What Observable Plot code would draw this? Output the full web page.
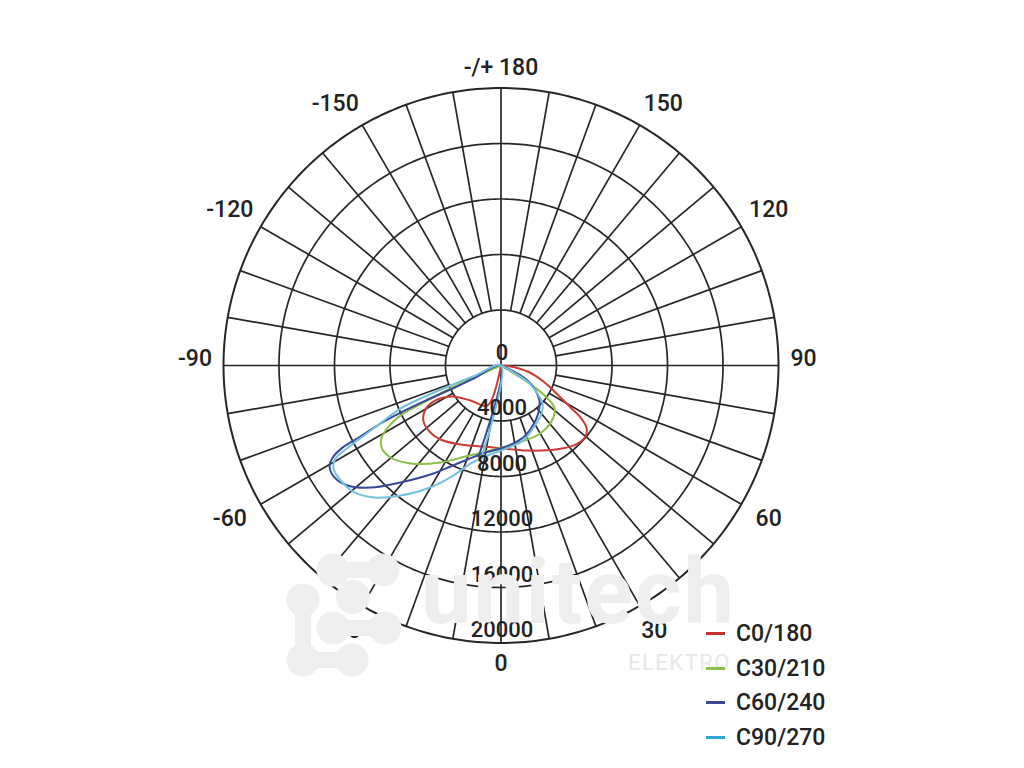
<!DOCTYPE html>
<html>
<head>
<meta charset="utf-8">
<script src="https://cdn.jsdelivr.net/npm/d3@7"></script>
<script src="https://cdn.jsdelivr.net/npm/@observablehq/plot@0.6"></script>
<style>
  body { margin: 0; background: #fff; font-family: Roboto, "Noto Sans", sans-serif; }
  #wrap { position: relative; width: 1024px; height: 768px; overflow: hidden; }
  #chart { position: absolute; left: 0; top: 0; }
  .wm { position: absolute; line-height: 1; white-space: nowrap; color: #eeeeee; }
  #wm1 { left: 421px; top: 548px; font-size: 90px; font-weight: 700; letter-spacing: 2px; }
  #wm2 { left: 628px; top: 652px; font-size: 22px; letter-spacing: 1.5px; color: #e8e8e8; }
  #logo { position: absolute; left: 0; top: 0; }
  #legend { position: absolute; left: 706px; top: 616px; }
  .item { display: flex; align-items: center; height: 34.7px; font-size: 23px; font-weight: 500; color: #222; }
  .sw { width: 19px; height: 3px; margin-right: 11px; }
</style>
</head>
<body>
<div id="wrap">
  <div id="chart"></div>
  <svg id="logo" width="1024" height="768">
    <g fill="#efefef">
      <circle cx="333" cy="570" r="16.5"/><circle cx="383" cy="570" r="16.5"/>
      <circle cx="353" cy="597" r="17"/>
      <circle cx="303" cy="600" r="16.5"/><circle cx="303" cy="660" r="16.5"/>
      <circle cx="352" cy="660" r="16.5"/>
      <circle cx="333" cy="628" r="16.5"/><circle cx="385" cy="628" r="16.5"/>
    </g>
    <g stroke="#efefef" stroke-width="16">
      <line x1="333" y1="570" x2="383" y2="570"/>
      <line x1="303" y1="600" x2="303" y2="660"/>
      <line x1="303" y1="660" x2="352" y2="660"/>
      <line x1="333" y1="628" x2="385" y2="628"/>
    </g>
  </svg>
  <div class="wm" id="wm1">unitech</div>
  <div class="wm" id="wm2">ELEKTRO</div>
  <div id="legend"></div>
</div>
<script>
// ---- data (angles in degrees: 0 = nadir/bottom, 90 = right, -90 = left; values in cd) ----
const seriesNames = ["C0/180", "C30/210", "C60/240", "C90/270"];
const seriesColors = ["#cc3a35", "#8cbf47", "#3a4898", "#72c2dd"];
const legendColors = ["#c8302d", "#8cc04b", "#3a4898", "#2ea6d6"];

const c0Angles = [90, 84, 77.2, 69.4, 62.8, 58.9, 56.8, 54.0, 50.0, 43.3, 33.0, 17.3, -5.2, -27.1, -39.3, -46.5, -54.2, -59.8, -61.9, -57.4, -41.1, -18.6, -18.6];
const c0Values = [0, 690, 1960, 3270, 4580, 5850, 6850, 7610, 7950, 7830, 7220, 6420, 5930, 6400, 6890, 7010, 6890, 6300, 5350, 4150, 3350, 3040, 0];

const c30Angles = [60, 58.4, 57.1, 55.7, 51.5, 42.0, 28.5, 10.5, -7.0, -21.3, -32.0, -42.7, -50.2, -55.5, -58.9, -61.5, -63.6, -64.5, -65.5, -66.7, -67];
const c30Values = [0, 1650, 2790, 3710, 4930, 5430, 5660, 5720, 6170, 7040, 8240, 9610, 10360, 10440, 10050, 9220, 8090, 6030, 4000, 2000, 0];

const c60Angles = [66, 64.2, 60.5, 54.1, 47.7, 38.6, 28.8, 19.3, 9.1, -0.3, -10.1, -19.6, -26.6, -32.0, -40.7, -46.9, -52.0, -56.1, -59.5, -61.5, -62.6, -63.2, -64.3, -64.9, -65.1, -64.6, -64.8, -65, -13.9];
const c60Values = [0, 1160, 2190, 3070, 3750, 4330, 4850, 5340, 5690, 5980, 6370, 7190, 8140, 9180, 11120, 12880, 14040, 14460, 14340, 13740, 12860, 11350, 9640, 7990, 6000, 4030, 2030, 0, 6760];

const c90Angles = [62, 61.1, 58.3, 52.5, 47.5, 40.2, 27.7, 16.7, 3.8, -8.5, -17.3, -23.4, -30.9, -37.7, -43.8, -49.1, -54.0, -58.4, -60.7, -61.6, -63.7, -66.8, -67.7, -68.4, -68.6, -69, -12.0];
const c90Values = [0, 1190, 2330, 3310, 4050, 4530, 5040, 5640, 5990, 6560, 7400, 8640, 10330, 11840, 13180, 13970, 14210, 14170, 13680, 12740, 10250, 7880, 6270, 3910, 1970, 0, 6780];

const ringValues = [4000, 8000, 12000, 16000, 20000];
const ringLabelValues = [0, 4000, 8000, 12000, 16000, 20000];
const angleTicks = [-150, -120, -90, -60, -30, 0, 30, 60, 90, 120, 150, 180];
const angleTickLabels = ["-150", "-120", "-90", "-60", "-30", "0", "30", "60", "90", "120", "150", "-/+ 180"];

// ---- geometry ----
const maxR = 20000;
const outerPx = 277.5;
const k = maxR / outerPx;          // cd per pixel
const cx = 500.5, cy = 365;        // pixel centre of the diagram
const rad = a => a * Math.PI / 180;
const px = (a, v) => v * Math.sin(rad(a));
const py = (a, v) => v * Math.cos(rad(a));

const curves = [
  {name: seriesNames[0], angles: c0Angles, values: c0Values},
  {name: seriesNames[1], angles: c30Angles, values: c30Values},
  {name: seriesNames[2], angles: c60Angles, values: c60Values},
  {name: seriesNames[3], angles: c90Angles, values: c90Values}
];
const curvePts = curves.flatMap(c => c.angles.map((a, j) => ({series: c.name, a, v: c.values[j]})));

const ringPts = ringValues.flatMap(r => d3.range(0, 361, 1).map(a => ({r, a})));
const spokes = d3.range(-170, 181, 10).map(a => ({a, r1: (a % 90 === 0) ? 0 : ringValues[0], r2: maxR}));

// angle labels sit on a slightly squarish ring outside the diagram
const angleLabelData = angleTicks.map((a, i) => {
  const t = angleTickLabels[i];
  const s = Math.sin(rad(a)), c = Math.cos(rad(a));
  const ah = 302.5, av = 298, p = 2.2;
  const R = 1 / Math.pow(Math.pow(Math.abs(s) / ah, p) + Math.pow(Math.abs(c) / av, p), 1 / p);
  const hy = (t.startsWith("-") && t.length < 5) ? -3.5 : 0;
  const upper = (c < -0.8 && Math.abs(s) > 0.1) ? 1 : 0;   // the two upper diagonal labels sit a little wider
  return {t, x: (R * s + hy + Math.sign(s) * 9 * upper) * k, y: (R * c + 4 * upper - 7 * Math.pow(Math.abs(s), 12)) * k};
});

const chart = Plot.plot({
  width: 1024,
  height: 768,
  margin: 0,
  x: {domain: [-cx * k, (1024 - cx) * k], range: [0, 1024], axis: null},
  y: {domain: [-cy * k, (768 - cy) * k], range: [0, 768], axis: null},
  color: {domain: seriesNames, range: seriesColors},
  style: {fontFamily: "Roboto, 'Noto Sans', sans-serif", background: "#fff", overflow: "visible"},
  marks: [
    Plot.line(ringPts, {x: d => px(d.a, d.r), y: d => py(d.a, d.r), z: "r", stroke: "#262626", strokeWidth: d => d.r === maxR ? 2 : 1.7}),
    Plot.link(spokes, {x1: d => px(d.a, d.r1), y1: d => py(d.a, d.r1), x2: d => px(d.a, d.r2), y2: d => py(d.a, d.r2), stroke: "#262626", strokeWidth: 1.7}),
    Plot.line(curvePts, {x: d => px(d.a, d.v), y: d => py(d.a, d.v), z: "series", stroke: "series", strokeWidth: 2, curve: "catmull-rom"}),
    Plot.text(ringLabelValues, {x: 0, y: d => d, text: d => String(d), dy: -13, dx: 1, fontSize: 22, fontWeight: 500, fill: "#222"}),
    Plot.text(angleLabelData, {x: "x", y: "y", text: "t", fontSize: 23, fontWeight: 500, fill: "#222"})
  ]
});
document.getElementById("chart").appendChild(chart);

const legend = d3.select("#legend");
seriesNames.forEach((n, i) => {
  const it = legend.append("div").attr("class", "item");
  it.append("div").attr("class", "sw").style("background", legendColors[i]);
  it.append("span").text(n);
});
</script>
</body>
</html>
